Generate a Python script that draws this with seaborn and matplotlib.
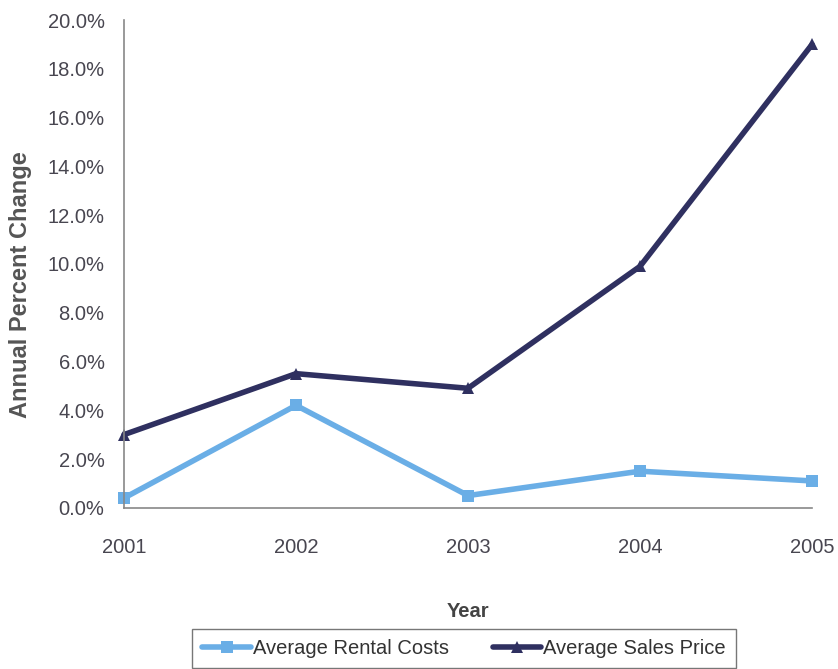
import matplotlib
matplotlib.use("Agg")
import matplotlib.pyplot as plt
import seaborn as sns
import pandas as pd
from matplotlib.ticker import FuncFormatter

years = [2001, 2002, 2003, 2004, 2005]
rental = [0.4, 4.2, 0.5, 1.5, 1.1]
sales = [3.0, 5.5, 4.9, 9.9, 19.0]
series_names = ["Average Rental Costs", "Average Sales Price"]

df = pd.DataFrame({
    "Year": years * 2,
    "Value": rental + sales,
    "Series": [series_names[0]] * 5 + [series_names[1]] * 5,
})

sns.set_style("white")
plt.rcParams["font.family"] = ["Liberation Sans", "DejaVu Sans"]

fig = plt.figure(figsize=(8.38, 6.69), dpi=100)
ax = fig.add_axes([0.148, 0.241, 0.821, 0.729])

palette = {series_names[0]: "#6aaee6", series_names[1]: "#2f3060"}
markers = {series_names[0]: "s", series_names[1]: "^"}
sns.lineplot(data=df, x="Year", y="Value", hue="Series", style="Series",
             palette=palette, markers=markers, dashes=False, linewidth=4,
             markersize=9, markeredgewidth=0, ax=ax, clip_on=False)

ax.set_xlim(2001, 2005)
ax.set_ylim(0, 20)
ax.set_xticks(years)
ax.set_xticklabels([str(y) for y in years])
ax.set_yticks(range(0, 21, 2))
ax.yaxis.set_major_formatter(FuncFormatter(lambda v, p: f"{v:.1f}%"))
ax.tick_params(axis="both", which="major", length=5, width=1, color="#888888",
               labelsize=14.5, labelcolor="#484650", direction="out")
ax.tick_params(axis="x", pad=17)
ax.tick_params(axis="y", pad=9)
for s in ["top", "right"]:
    ax.spines[s].set_visible(False)
for s in ["left", "bottom"]:
    ax.spines[s].set_color("#888888")
    ax.spines[s].set_linewidth(1.2)

ax.set_xlabel("Year", fontsize=14.5, fontweight="bold", color="#444444", labelpad=32)
ax.set_ylabel("Annual Percent Change", fontsize=17, fontweight="bold", color="#555555")
ax.yaxis.set_label_coords(-0.134, 0.457)

handles, labels = ax.get_legend_handles_labels()
ax.legend_.remove()
leg = fig.legend(handles, labels, loc="center", bbox_to_anchor=(0.554, 0.03), ncol=2,
                 frameon=True, fancybox=False, edgecolor="#555555", fontsize=14.5,
                 handlelength=2.4, handletextpad=0.1, columnspacing=2.2,
                 borderpad=0.5)
leg.get_frame().set_linewidth(1.0)
for t in leg.get_texts():
    t.set_color("#333333")

fig.savefig("out.png", dpi=100, facecolor="white")
